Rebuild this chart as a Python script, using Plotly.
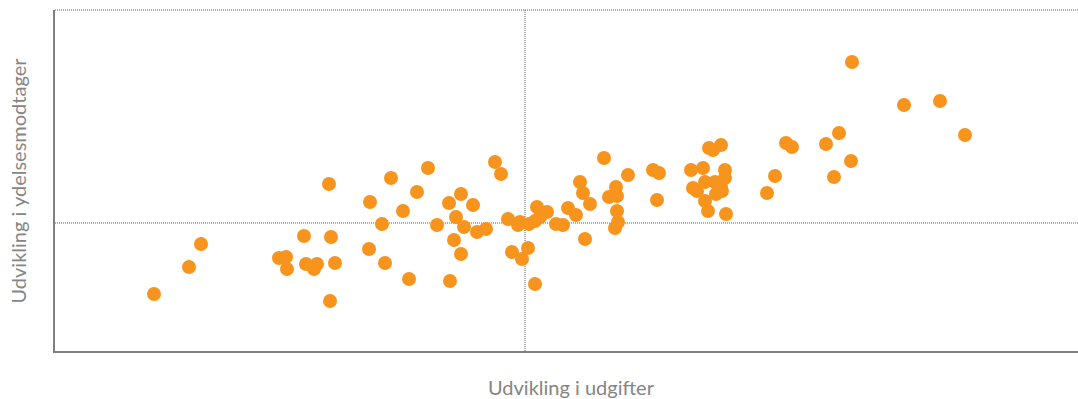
import plotly.graph_objects as go

# Development in expenditure (x) vs development in benefit recipients (y), index units
udgifter = [
    -37.1, -33.6, -32.4, -24.6, -23.9, -23.8, -22.1, -21.9, -21.1, -20.8, -19.6, -19.4, -19.0, -19.5,
    -15.5, -15.6, -14.3, -14.0, -13.4, -12.2, -11.6, -10.8, -9.7, -8.8, -7.6, -7.5, -7.1, -6.9, -6.4, -6.4,
    -6.1, -5.2, -4.8, -3.9,
    -3.0, -2.4, -1.7, -1.3, -0.5, -0.7, -0.3, 0.3, 0.4, 1.0, 1.2, 1.0, 1.5, 2.2, 3.1, 3.8, 4.3, 5.1, 5.5,
    5.8, 6.0, 6.5, 7.9, 8.4, 9.1, 9.2, 9.2, 9.3, 9.0, 10.3,
    12.8, 13.4, 13.2, 16.6, 17.8, 18.4, 18.8, 19.6, 16.8, 17.2, 18.0, 18.0, 18.3, 19.0, 19.1, 19.6, 20.0,
    20.0, 19.7, 20.1,
    24.2, 25.0, 26.1, 26.7, 30.1, 31.4, 30.9, 32.6, 32.7, 37.9, 41.5, 44.0,
]
ydelsesmodtager = [
    -7.1, -4.4, -2.1, -3.5, -3.4, -4.6, -1.3, -4.1, -4.6, -4.1, 3.9, -1.4, -4.0, -7.8,
    2.1, -2.6, -0.1, -4.0, 4.5, 1.2, -5.6, 3.1, 5.5, -0.2, 2.0, -5.8, -1.7, 0.6, 2.9, -3.1,
    -0.4, 1.8, -0.9, -0.6,
    6.1, 4.9, 0.4, -2.9, 0.1, -0.2, -3.6, -2.5, -0.1, -6.1, 1.6, 0.2, 0.6, 1.1, -0.1, -0.2, 1.5, 0.8, 4.1,
    3.0, -1.6, 1.9, 6.5, 2.6, 3.6, 2.7, 1.2, 0.1, -0.5, 4.8,
    5.3, 5.0, 2.3, 5.3, 5.5, 7.5, 7.3, 7.8, 3.5, 3.2, 4.1, 2.2, 1.2, 4.1, 2.9, 3.6, 5.3,
    4.5, 3.2, 0.9,
    3.0, 4.7, 8.0, 7.6, 7.9, 9.0, 4.6, 6.2, 16.1, 11.8, 12.2, 8.8,
]

fig = go.Figure()
fig.add_trace(go.Scatter(
    x=udgifter, y=ydelsesmodtager, mode="markers",
    marker=dict(size=14, color="#F7941D", line=dict(width=0)),
    hoverinfo="x+y", showlegend=False,
))

dot = dict(color="#5f5f5f", width=1, dash="1px,1px")
# zero reference lines and dotted top border
fig.add_shape(type="line", xref="x", yref="paper", x0=0, x1=0, y0=0, y1=1, line=dot, layer="below")
fig.add_shape(type="line", xref="paper", yref="y", x0=0, x1=1, y0=0, y1=0, line=dot, layer="below")
fig.add_shape(type="line", xref="paper", yref="paper", x0=0, x1=1, y0=1, y1=1, line=dot, layer="below")

axis_common = dict(showgrid=False, zeroline=False, showticklabels=False, ticks="",
                   showline=True, linecolor="#808080", linewidth=1.5, fixedrange=True)
fig.update_xaxes(range=[-47.0, 55.3], **axis_common)
fig.update_yaxes(range=[-12.8, 21.3], **axis_common)

title_font = dict(family="Lato, 'Open Sans', sans-serif", size=20, color="#858585")
fig.add_annotation(text="Udvikling i udgifter", xref="paper", yref="paper",
                   x=0.5, y=0, xshift=5, yshift=-36, showarrow=False, font=title_font,
                   xanchor="center", yanchor="middle")
fig.add_annotation(text="Udvikling i ydelsesmodtager", xref="paper", yref="paper",
                   x=0, y=0.5, xshift=-38, showarrow=False, font=title_font, textangle=-90,
                   xanchor="center", yanchor="middle")

fig.update_layout(
    width=1078, height=399,
    margin=dict(l=55, r=0, t=10, b=48),
    paper_bgcolor="white", plot_bgcolor="white",
)

fig.write_html("out.html", config={"displayModeBar": False})
